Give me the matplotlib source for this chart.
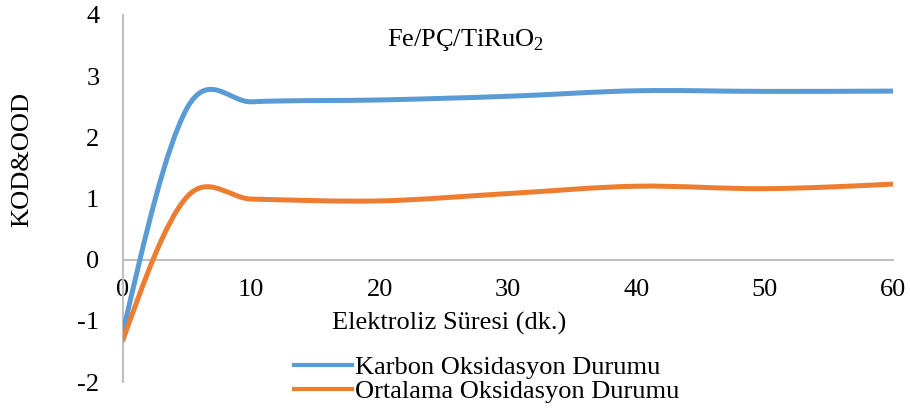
import numpy as np
import matplotlib
matplotlib.use("Agg")
import matplotlib.pyplot as plt
from matplotlib.path import Path
from matplotlib.patches import PathPatch
from matplotlib.lines import Line2D

plt.rcParams['font.family'] = ['Liberation Serif', 'DejaVu Serif']
plt.rcParams['mathtext.fontset'] = 'custom'
plt.rcParams['mathtext.rm'] = 'Liberation Serif'
plt.rcParams['axes.unicode_minus'] = False

# data
minutes = [0, 5, 10, 20, 30, 40, 50, 60]
karbon = [-1.18, 2.48, 2.58, 2.61, 2.67, 2.76, 2.75, 2.755]
ortalama = [-1.31, 1.03, 0.99, 0.96, 1.08, 1.20, 1.16, 1.235]

BLUE = '#5B9BD5'
ORANGE = '#ED7D31'
GRAY = '#BFBFBF'
FS = 19


def smooth_path(x, y):
    """smoothed line like Excel: cubic Hermite pieces drawn as Bezier curves"""
    x = np.asarray(x, float)
    y = np.asarray(y, float)
    n = len(x)
    m = np.zeros(n)
    m[1:-1] = (y[2:] - y[:-2]) / (x[2:] - x[:-2])
    # free ends (zero curvature)
    m[0] = (3 * (y[1] - y[0]) / (x[1] - x[0]) - m[1]) / 2
    m[-1] = (3 * (y[-1] - y[-2]) / (x[-1] - x[-2]) - m[-2]) / 2
    verts = [(x[0], y[0])]
    codes = [Path.MOVETO]
    for i in range(n - 1):
        h = (x[i + 1] - x[i]) / 3
        verts += [(x[i] + h, y[i] + h * m[i]),
                  (x[i + 1] - h, y[i + 1] - h * m[i + 1]),
                  (x[i + 1], y[i + 1])]
        codes += [Path.CURVE4] * 3
    return Path(verts, codes)


fig = plt.figure(figsize=(9.1, 4.12), dpi=100)
ax = fig.add_axes([0.1352, 0.0728, 0.846, 0.891])

for ys, col in [(karbon, BLUE), (ortalama, ORANGE)]:
    patch = PathPatch(smooth_path(minutes, ys), facecolor='none', edgecolor=col,
                      linewidth=3.6, capstyle='round', zorder=3)
    ax.add_patch(patch)

ax.set_xlim(0, 60)
ax.set_ylim(-2, 4)
ax.set_xticks(np.arange(0, 61, 10))
ax.set_yticks(np.arange(-2, 5, 1))

for s in ['top', 'right']:
    ax.spines[s].set_visible(False)
ax.spines['bottom'].set_position(('data', 0))
for s in ['left', 'bottom']:
    ax.spines[s].set_color(GRAY)
    ax.spines[s].set_linewidth(1.5)
ax.tick_params(axis='both', length=0, labelsize=FS)
ax.tick_params(axis='x', pad=14)
ax.tick_params(axis='y', pad=17)

ax.set_ylabel('KOD&OOD', fontsize=FS)
ax.yaxis.set_label_coords(-0.117, 0.605)

ax.text(0.445, 0.932, 'Fe/PÇ/TiRuO$_2$', transform=ax.transAxes, fontsize=FS,
        ha='center', va='center')
fig.text(449 / 910, 1 - 323 / 412, 'Elektroliz Süresi (dk.)', fontsize=FS,
         ha='center', va='center')

handles = [Line2D([], [], color=BLUE, lw=3),
           Line2D([], [], color=ORANGE, lw=3)]
fig.legend(handles, ['Karbon Oksidasyon Durumu', 'Ortalama Oksidasyon Durumu'],
           loc='upper left', bbox_to_anchor=(294 / 910, 1 - 356 / 412),
           frameon=False, fontsize=FS, handlelength=2.2, handletextpad=0.12,
           labelspacing=0.02, borderpad=0, borderaxespad=0)

fig.savefig('out.png', dpi=100)
